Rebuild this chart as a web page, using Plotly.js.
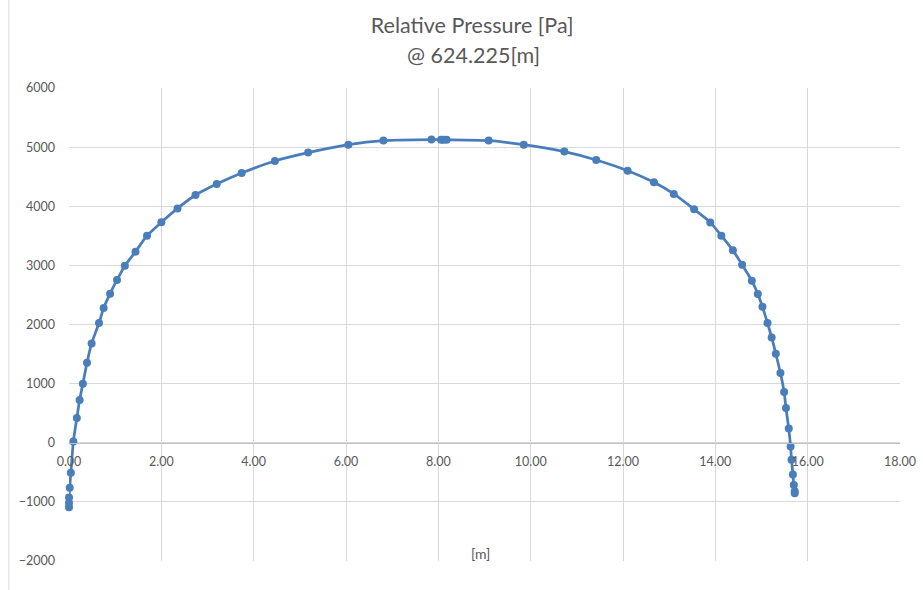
<!DOCTYPE html>
<html>
<head>
<meta charset="utf-8">
<script src="https://cdn.plot.ly/plotly-3.0.1.min.js"></script>
<style>html,body{margin:0;padding:0;background:#fff;}#chart{width:923px;height:590px;}</style>
</head>
<body>
<div id="chart"></div>
<script>
// Horizontal position [m]
const positionM = [
  0.00, 0.00, 0.00, 0.015, 0.04, 0.095, 0.17, 0.23, 0.30, 0.39, 0.49,
  0.65, 0.75, 0.89, 1.04, 1.21, 1.44, 1.69, 2.00, 2.35, 2.74, 3.20, 3.74,
  4.46, 5.18, 6.05, 6.81, 7.85, 8.06, 8.11, 8.18, 9.09, 9.85, 10.73, 11.42,
  12.10, 12.67, 13.10, 13.54, 13.89, 14.13, 14.38, 14.58, 14.79, 14.92,
  15.02, 15.13, 15.22, 15.31, 15.41, 15.49, 15.53, 15.59, 15.63, 15.65,
  15.68, 15.70, 15.72, 15.72
];
// Relative pressure [Pa]
const pressurePa = [
  -1090, -1020, -925, -761, -507, 22, 418, 722, 998, 1354, 1680,
  2025, 2279, 2521, 2753, 2995, 3232, 3502, 3728, 3964, 4191, 4377, 4563,
  4766, 4907, 5042, 5110, 5127, 5126, 5125, 5124, 5110, 5042, 4924, 4783,
  4602, 4405, 4208, 3948, 3727, 3502, 3254, 3012, 2741, 2516,
  2301, 2025, 1782, 1506, 1179, 858, 587, 242, -63, -288,
  -536, -716, -820, -855
];
const xTicks = [0, 2, 4, 6, 8, 10, 12, 14, 16, 18];
const yTicks = [-2000, -1000, 0, 1000, 2000, 3000, 4000, 5000, 6000];
const titleLine1 = 'Relative Pressure [Pa]';
const titleLine2 = '@ 624.225[m]';
const xTitle = '[m]';

const FONT = 'Lato, "Liberation Sans", Arial, sans-serif';
const GREY = '#595959';
const BLUE = '#4a7ebb';

const trace = {
  x: positionM, y: pressurePa, type: 'scatter', mode: 'lines+markers',
  line: {color: BLUE, width: 2.75, shape: 'spline', smoothing: 0.6},
  marker: {color: BLUE, size: 8},
  cliponaxis: false, hoverinfo: 'x+y'
};

// plot area: left 68.6, right 900, top 88, bottom 561
const W = 923, H = 590;
const L = 68.6, R = W - 900, T = 88, B = H - 561;
const plotW = 900 - L;
const plotH = H - T - B;
const zeroFrac = (561 - 443) / plotH;

const layout = {
  width: W, height: H,
  margin: {l: L, r: R, t: T, b: B, pad: 0},
  paper_bgcolor: '#ffffff', plot_bgcolor: '#ffffff',
  font: {family: FONT, color: GREY, size: 12},
  showlegend: false,
  title: {text: titleLine1, font: {family: FONT, size: 21.5, color: GREY},
          x: (472 - L) / plotW, xanchor: 'center', y: 1 - 25/H, yanchor: 'middle', xref: 'paper', yref: 'container'},
  xaxis: {
    range: [0, 18], tickvals: xTicks, ticktext: xTicks.map(v => v.toFixed(2)),
    showgrid: true, gridcolor: '#d9d9d9', gridwidth: 1,
    zeroline: false, showline: true, linecolor: '#bfbfbf', linewidth: 1,
    anchor: 'free', position: zeroFrac,
    ticks: '', ticklabelstandoff: 7,
    tickfont: {family: FONT, size: 12.5, color: GREY},
    fixedrange: true
  },
  yaxis: {
    range: [-2000, 6000], tickvals: yTicks,
    showgrid: true, gridcolor: '#d9d9d9', gridwidth: 1,
    zeroline: false, showline: false, ticks: '',
    ticklabelstandoff: 13,
    tickfont: {family: FONT, size: 12.5, color: GREY},
    fixedrange: true
  },
  annotations: [
    {text: titleLine2, xref: 'paper', yref: 'paper', x: (473 - L) / plotW, y: 1 + (88-55)/plotH,
     xanchor: 'center', yanchor: 'middle', showarrow: false,
     font: {family: FONT, size: 21.5, color: GREY}},
    {text: xTitle, xref: 'paper', yref: 'paper', x: (480-L)/plotW, y: (561-553)/plotH,
     xanchor: 'center', yanchor: 'middle', showarrow: false,
     font: {family: FONT, size: 14, color: GREY}}
  ],
  shapes: [
    {type: 'line', xref: 'paper', yref: 'paper',
     x0: (8.5-L)/plotW, x1: (8.5-L)/plotW, y0: -(B)/plotH, y1: 1 + T/plotH,
     line: {color: '#d9d9d9', width: 1}}
  ]
};

Plotly.newPlot('chart', [trace], layout, {displayModeBar: false, staticPlot: true});
</script>
</body>
</html>
